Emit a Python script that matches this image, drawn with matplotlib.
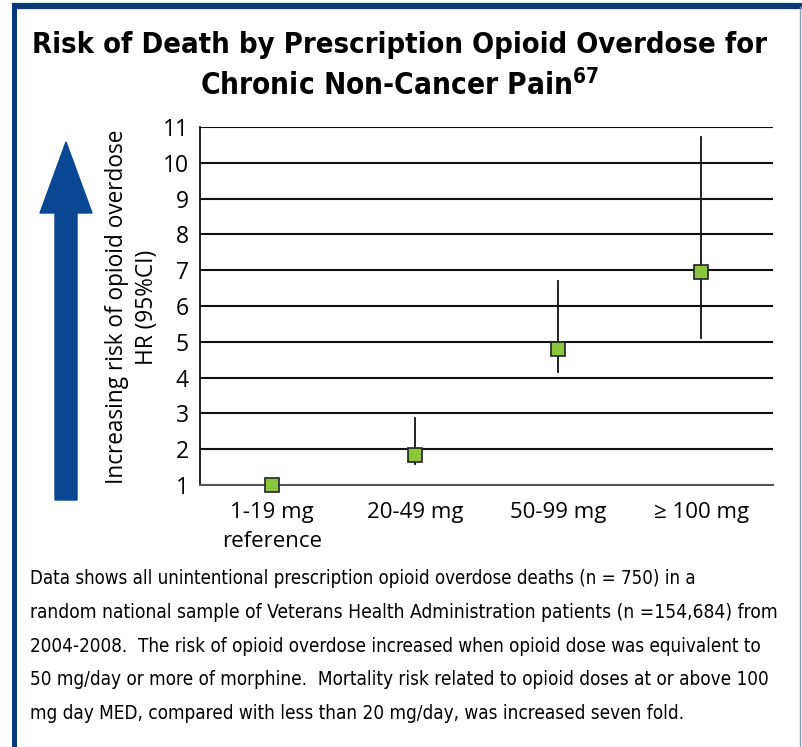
import matplotlib
matplotlib.use("Agg")
import matplotlib.pyplot as plt
from matplotlib.patches import FancyArrow
from matplotlib.lines import Line2D
from matplotlib import font_manager

categories = ["1-19 mg\nreference", "20-49 mg", "50-99 mg", "\u2265 100 mg"]
hr = [1.0, 1.84, 4.8, 6.95]
ci_low = [1.0, 1.58, 4.15, 5.1]
ci_high = [1.0, 2.87, 6.7, 10.72]
yticks = list(range(1, 12))

W, H = 802, 747
fig = plt.figure(figsize=(W / 100, H / 100), dpi=100)

names = {f.name for f in font_manager.fontManager.ttflist}
narrow_name = None
for cand in ["Liberation Sans Narrow", "DejaVu Sans Condensed"]:
    if cand in names:
        narrow_name = cand
        break
if narrow_name:
    narrow = dict(fontfamily=[narrow_name, "DejaVu Sans"])
else:
    narrow = dict(fontfamily=["DejaVu Sans"], fontstretch="condensed")
reg = ["Open Sans", "DejaVu Sans"]

renderer = fig.canvas.get_renderer()


def fit_text(x, y, s, target_w, size, **kw):
    t = fig.text(x / W, 1 - y / H, s, fontsize=size, **kw)
    w = t.get_window_extent(renderer).width
    t.set_fontsize(size * target_w / w)
    return t


# axes: x 200..773, y 127..485
ax = fig.add_axes([200 / W, 1 - 485 / H, (773 - 200) / W, (485 - 127) / H])
x = list(range(len(categories)))
for i in x:
    if ci_high[i] > ci_low[i]:
        ax.plot([i, i], [ci_low[i], ci_high[i]], color="#111111", lw=1.3, zorder=3)
ax.plot(x, hr, linestyle="none", marker="s", markersize=10, markerfacecolor="#8cc63f",
        markeredgecolor="#222222", markeredgewidth=1.2, zorder=4, clip_on=False)
ax.set_xlim(-0.5, len(categories) - 0.5)
ax.set_ylim(1, 11)
ax.set_yticks(yticks)
ax.set_yticklabels([str(v) for v in yticks], fontfamily=reg, fontsize=16.5)
ax.set_xticks(x)
ax.set_xticklabels(categories, fontfamily=reg, fontsize=16, linespacing=1.5)
ax.tick_params(axis="both", length=0)
ax.tick_params(axis="y", pad=8)
ax.tick_params(axis="x", pad=12)
for v in yticks[1:]:
    ax.axhline(v, color="#111111", lw=1.5, zorder=1)
for s in ["top", "right"]:
    ax.spines[s].set_visible(False)
ax.spines["left"].set_color("#111111")
ax.spines["left"].set_linewidth(1.3)
ax.spines["bottom"].set_color("#555555")
ax.spines["bottom"].set_linewidth(1.5)

fig.text(132 / W, 1 - 307 / H, "Increasing risk of opioid overdose\nHR (95%CI)",
         fontfamily=reg, fontsize=16.3, linespacing=1.3, rotation=90,
         ha="center", va="center", multialignment="center")

# title
fit_text(400, 45, "Risk of Death by Prescription Opioid Overdose for", 735, 24,
         ha="center", va="center", fontweight="bold", **narrow)
fit_text(400, 85, r"Chronic Non-Cancer Pain$^{\mathregular{67}}$", 400, 24,
         ha="center", va="center", fontweight="bold", **narrow)

# body text
body = [
    "Data shows all unintentional prescription opioid overdose deaths (n = 750) in a",
    "random national sample of Veterans Health Administration patients (n =154,684) from",
    "2004-2008.  The risk of opioid overdose increased when opioid dose was equivalent to",
    "50 mg/day or more of morphine.  Mortality risk related to opioid doses at or above 100",
    "mg day MED, compared with less than 20 mg/day, was increased seven fold.",
]
widths = [670, 753, 737, 745, 657]
for k, line in enumerate(body):
    fit_text(30, 579 + 33.6 * k, line, widths[k], 16, ha="left", va="center", **narrow)

# blue arrow
fig.patches.append(FancyArrow(66 / W, 1 - 500 / H, 0, (500 - 142) / H, width=22 / W,
                              head_width=52 / W, head_length=71 / H,
                              length_includes_head=True, color="#0a4793",
                              transform=fig.transFigure, figure=fig))

# border
fig.add_artist(Line2D([12 / W, 1], [1 - 6 / H, 1 - 6 / H], color="#0b3a7c", lw=4.5,
                      transform=fig.transFigure, solid_capstyle="butt"))
fig.add_artist(Line2D([14 / W, 14 / W], [0, 1 - 4 / H], color="#0b3a7c", lw=3.6,
                      transform=fig.transFigure, solid_capstyle="butt"))
fig.add_artist(Line2D([800 / W, 800 / W], [0, 1 - 6 / H], color="#8899bb", lw=1.0,
                      transform=fig.transFigure, solid_capstyle="butt"))

fig.savefig("out.png", dpi=100)
